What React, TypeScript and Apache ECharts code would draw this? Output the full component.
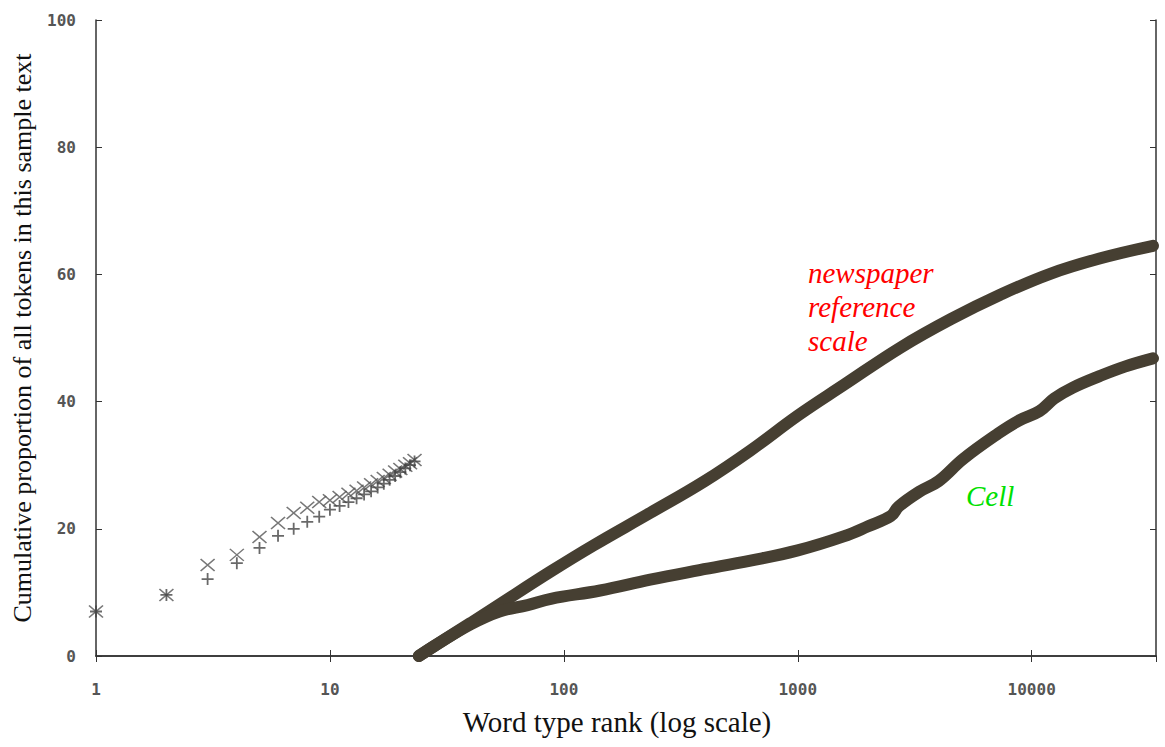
import React, { useEffect, useRef } from "react";
import * as echarts from "echarts";

// Discrete points at the top ranks (x-markers and +-markers)
const topRanks = [1, 2, 3, 4, 5, 6, 7, 8, 9, 10, 11, 12, 13, 14, 15, 16, 17, 18, 19, 20, 21, 22, 23];
const crossValues = [7.0, 9.6, 14.3, 15.9, 18.7, 20.9, 22.5, 23.3, 24.2, 24.5, 25.0, 25.5, 26.0, 26.5, 27.0, 27.5, 28.0, 28.5, 29.0, 29.4, 29.9, 30.3, 30.8];
const plusValues = [7.0, 9.6, 12.1, 14.6, 17.0, 18.9, 20.0, 21.1, 21.9, 23.0, 23.6, 24.2, 24.8, 25.4, 25.9, 26.5, 27.1, 27.7, 28.3, 28.9, 29.5, 30.0, 30.6];

// Newspaper reference scale curve
const newsRanks = [24, 28, 40, 53, 88, 134, 234, 400, 627, 1000, 1570, 2750, 4530, 7340, 12000, 19500, 33000];
const newsValues = [0, 1.6, 5.2, 8.1, 13.3, 17.4, 22.5, 27.5, 32.3, 37.8, 42.6, 48.5, 53.0, 56.8, 60.1, 62.5, 64.5];

// Cell curve
const cellRanks = [24, 28, 40, 53, 70, 88, 143, 234, 380, 628, 1000, 1570, 2000, 2500, 2700, 3300, 4000, 5100, 7200, 8800, 10800, 12500, 15000, 19500, 25000, 33000];
const cellValues = [0, 1.6, 5.0, 7.0, 8.0, 9.0, 10.3, 12.0, 13.5, 15.0, 16.6, 18.8, 20.4, 22.0, 23.5, 25.8, 27.5, 31.0, 35.0, 37.0, 38.5, 40.5, 42.2, 44.0, 45.5, 46.8];

const yTicks = [0, 20, 40, 60, 80, 100];
const xTickLabels = ["1", "10", "100", "1000", "10000"];

const CURVE = "#463f32";
const AXIS = "#333";

export default function App() {
  const ref = useRef<HTMLDivElement>(null);
  useEffect(() => {
    document.body.style.margin = "0";
    const chart = echarts.init(ref.current!, null, { renderer: "svg" });
    const tickFont = {
      fontFamily: "DejaVu Sans Mono",
      fontWeight: "bold" as const,
      fontSize: 16,
      color: "#555",
    };
    chart.setOption({
      animation: false,
      backgroundColor: "#fff",
      grid: { left: 96, right: 9, top: 20, bottom: 91 },
      xAxis: [
        {
          type: "log",
          logBase: 10,
          min: 1,
          max: 34000,
          name: "Word type rank (log scale)",
          nameLocation: "middle",
          nameGap: 51,
          nameTextStyle: { fontFamily: "Liberation Serif", fontSize: 29, color: "#111", padding: [0, 18, 0, 0] },
          axisLine: { show: true, lineStyle: { color: AXIS, width: 1.5 } },
          axisTick: { show: true, inside: true, length: 6, lineStyle: { color: AXIS } },
          splitLine: { show: false },
          axisLabel: {
            ...tickFont,
            margin: 25,
            showMaxLabel: false,
            formatter: (v: number) => {
              const l = Math.log10(v);
              const r = Math.round(l);
              if (Math.abs(l - r) > 1e-6) return "";
              const s = String(Math.round(Math.pow(10, r)));
              return xTickLabels.includes(s) ? s : "";
            },
          },
        },
        {
          type: "log",
          logBase: 10,
          min: 1,
          max: 34000,
          position: "top",
          axisLine: { show: true, lineStyle: { color: AXIS, width: 1.5 } },
          axisTick: { show: true, inside: true, length: 6, lineStyle: { color: AXIS } },
          axisLabel: { show: false },
          splitLine: { show: false },
        },
      ],
      yAxis: [
        {
          type: "value",
          min: 0,
          max: 100,
          interval: 20,
          name: "Cumulative proportion of all tokens in this sample text",
          nameLocation: "middle",
          nameGap: 61,
          nameTextStyle: { fontFamily: "Liberation Serif", fontSize: 26, color: "#111" },
          axisLine: { show: true, lineStyle: { color: AXIS, width: 1.5 } },
          axisTick: { show: true, inside: true, length: 6, lineStyle: { color: AXIS } },
          splitLine: { show: false },
          axisLabel: { ...tickFont, margin: 20, formatter: (v: number) => (yTicks.includes(v) ? String(v) : "") },
        },
        {
          type: "value",
          min: 0,
          max: 100,
          interval: 20,
          position: "right",
          axisLine: { show: true, lineStyle: { color: AXIS, width: 1.5 } },
          axisTick: { show: true, inside: true, length: 6, lineStyle: { color: AXIS } },
          axisLabel: { show: false },
          splitLine: { show: false },
        },
      ],
      series: [
        {
          name: "newspaper reference scale",
          type: "line",
          data: newsRanks.map((r, i) => [r, newsValues[i]]),
          smooth: 0.4,
          showSymbol: false,
          lineStyle: { color: CURVE, width: 12, cap: "round" },
          z: 3,
        },
        {
          name: "Cell",
          type: "line",
          data: cellRanks.map((r, i) => [r, cellValues[i]]),
          smooth: 0.4,
          showSymbol: false,
          lineStyle: { color: CURVE, width: 12, cap: "round" },
          z: 3,
        },
        {
          name: "top ranks x",
          type: "scatter",
          data: topRanks.map((r, i) => [r, crossValues[i]]),
          symbol: "path://M0,0L10,10M10,0L0,10",
          symbolSize: [14, 12],
          itemStyle: { color: "transparent", borderColor: "#555", borderWidth: 1.5 },
          z: 4,
        },
        {
          name: "top ranks +",
          type: "scatter",
          data: topRanks.map((r, i) => [r, plusValues[i]]),
          symbol: "path://M5,0L5,10M0,5L10,5",
          symbolSize: 12,
          itemStyle: { color: "transparent", borderColor: "#444", borderWidth: 1.8 },
          z: 4,
        },
      ],
      graphic: [
        {
          type: "text",
          left: 808,
          top: 256,
          style: {
            text: "newspaper\nreference\nscale",
            fill: "#ff0000",
            font: "italic 29px 'Liberation Serif'",
            lineHeight: 34,
          },
        },
        {
          type: "text",
          left: 966,
          top: 481,
          style: {
            text: "Cell",
            fill: "#00e000",
            font: "italic 29px 'Liberation Serif'",
          },
        },
      ],
    });
    return () => chart.dispose();
  }, []);
  return <div ref={ref} style={{ width: 1165, height: 747 }} />;
}
